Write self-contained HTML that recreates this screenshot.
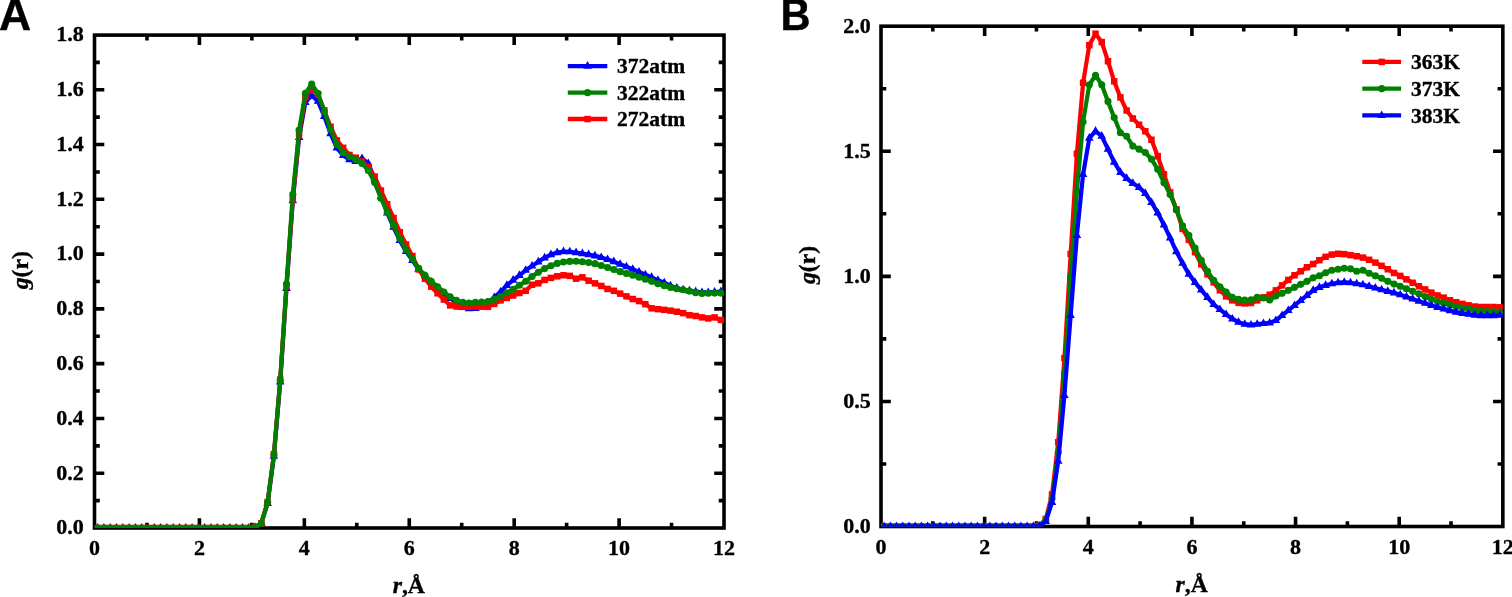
<!DOCTYPE html>
<html lang="en"><head><meta charset="utf-8"><title>g(r)</title>
<style>
html,body{margin:0;padding:0;background:#fff;}
body{width:1512px;height:597px;overflow:hidden;}
svg{display:block;}
.tk{font-family:"Liberation Serif",serif;font-weight:bold;font-size:22px;fill:#000;stroke:#000;stroke-width:0.35px;}
.tt{font-family:"Liberation Serif",serif;font-weight:bold;font-size:23.7px;fill:#000;stroke:#000;stroke-width:0.35px;}
.lg{font-family:"Liberation Serif",serif;font-weight:bold;font-size:21.5px;fill:#000;stroke:#000;stroke-width:0.35px;}
.pl{font-family:"Liberation Sans",sans-serif;font-weight:bold;font-size:44.5px;fill:#000;stroke:#000;stroke-width:0.4px;}
</style></head><body>
<svg width="1512" height="597" viewBox="0 0 1512 597">
<rect width="1512" height="597" fill="#fff"/>
<rect x="94.5" y="35.1" width="629.52" height="492.9" fill="none" stroke="#000" stroke-width="3.6"/>
<path d="M146.96 528.0v-5.3M146.96 35.1v5.3M199.42 528.0v-9.8M199.42 35.1v9.8M251.88 528.0v-5.3M251.88 35.1v5.3M304.34 528.0v-9.8M304.34 35.1v9.8M356.80 528.0v-5.3M356.80 35.1v5.3M409.26 528.0v-9.8M409.26 35.1v9.8M461.72 528.0v-5.3M461.72 35.1v5.3M514.18 528.0v-9.8M514.18 35.1v9.8M566.64 528.0v-5.3M566.64 35.1v5.3M619.10 528.0v-9.8M619.10 35.1v9.8M671.56 528.0v-5.3M671.56 35.1v5.3M94.5 500.61h5.3M724.02 500.61h-5.3M94.5 473.22h9.8M724.02 473.22h-9.8M94.5 445.83h5.3M724.02 445.83h-5.3M94.5 418.44h9.8M724.02 418.44h-9.8M94.5 391.05h5.3M724.02 391.05h-5.3M94.5 363.66h9.8M724.02 363.66h-9.8M94.5 336.27h5.3M724.02 336.27h-5.3M94.5 308.88h9.8M724.02 308.88h-9.8M94.5 281.49h5.3M724.02 281.49h-5.3M94.5 254.10h9.8M724.02 254.10h-9.8M94.5 226.71h5.3M724.02 226.71h-5.3M94.5 199.32h9.8M724.02 199.32h-9.8M94.5 171.93h5.3M724.02 171.93h-5.3M94.5 144.54h9.8M724.02 144.54h-9.8M94.5 117.15h5.3M724.02 117.15h-5.3M94.5 89.76h9.8M724.02 89.76h-9.8M94.5 62.37h5.3M724.02 62.37h-5.3" stroke="#000" stroke-width="3.6" fill="none"/>
<clipPath id="clipA"><rect x="94.5" y="35.1" width="629.52" height="492.9"/></clipPath>
<g clip-path="url(#clipA)">
<polyline fill="none" stroke="#0000ff" stroke-width="4.2" stroke-linejoin="round" points="97.65,528.00 103.94,528.00 110.24,528.00 116.53,528.00 122.83,528.00 129.12,528.00 135.42,528.00 141.71,528.00 148.01,528.00 154.30,528.00 160.60,528.00 166.89,528.00 173.19,528.00 179.49,528.00 185.78,528.00 192.08,528.00 198.37,528.00 204.67,528.00 210.96,528.00 217.26,528.00 223.55,528.00 229.85,528.00 236.14,528.00 242.44,528.00 248.73,528.00 255.03,527.18 261.32,523.21 267.62,503.35 273.91,456.24 280.21,382.01 286.50,288.34 292.80,200.69 299.09,137.42 305.39,102.36 311.68,95.24 317.98,101.26 324.27,116.33 330.57,133.58 336.87,147.83 343.16,155.50 349.46,159.60 355.75,161.52 362.05,158.51 368.34,163.44 374.64,178.78 380.93,196.58 387.23,213.02 393.52,227.26 399.82,240.41 406.11,251.36 412.41,260.40 418.70,269.16 425.00,276.01 431.29,282.04 437.59,288.06 443.88,293.54 450.18,298.47 456.47,302.31 462.77,307.51 469.06,308.61 475.36,308.33 481.65,306.14 487.95,302.58 494.25,297.38 500.54,291.90 506.84,285.32 513.13,280.12 519.43,275.33 525.72,270.26 532.02,266.01 538.31,261.82 544.61,257.80 550.90,254.57 557.20,252.57 563.49,251.55 569.79,251.77 576.08,252.57 582.38,253.58 588.67,254.57 594.97,255.80 601.26,257.39 607.56,259.41 613.85,261.60 620.15,264.23 626.44,266.64 632.74,269.25 639.03,271.88 645.33,274.67 651.63,277.30 657.92,280.31 664.22,282.72 670.51,285.87 676.81,288.06 683.10,289.71 689.40,290.80 695.69,291.62 701.99,292.45 708.28,292.45 714.58,292.04 720.87,291.62"/>
<path d="M97.65 523.00L101.95 530.60L93.35 530.60Z" fill="#0000ff"/>
<path d="M103.94 523.00L108.24 530.60L99.64 530.60Z" fill="#0000ff"/>
<path d="M110.24 523.00L114.54 530.60L105.94 530.60Z" fill="#0000ff"/>
<path d="M116.53 523.00L120.83 530.60L112.23 530.60Z" fill="#0000ff"/>
<path d="M122.83 523.00L127.13 530.60L118.53 530.60Z" fill="#0000ff"/>
<path d="M129.12 523.00L133.42 530.60L124.82 530.60Z" fill="#0000ff"/>
<path d="M135.42 523.00L139.72 530.60L131.12 530.60Z" fill="#0000ff"/>
<path d="M141.71 523.00L146.01 530.60L137.41 530.60Z" fill="#0000ff"/>
<path d="M148.01 523.00L152.31 530.60L143.71 530.60Z" fill="#0000ff"/>
<path d="M154.30 523.00L158.60 530.60L150.00 530.60Z" fill="#0000ff"/>
<path d="M160.60 523.00L164.90 530.60L156.30 530.60Z" fill="#0000ff"/>
<path d="M166.89 523.00L171.19 530.60L162.59 530.60Z" fill="#0000ff"/>
<path d="M173.19 523.00L177.49 530.60L168.89 530.60Z" fill="#0000ff"/>
<path d="M179.49 523.00L183.79 530.60L175.19 530.60Z" fill="#0000ff"/>
<path d="M185.78 523.00L190.08 530.60L181.48 530.60Z" fill="#0000ff"/>
<path d="M192.08 523.00L196.38 530.60L187.78 530.60Z" fill="#0000ff"/>
<path d="M198.37 523.00L202.67 530.60L194.07 530.60Z" fill="#0000ff"/>
<path d="M204.67 523.00L208.97 530.60L200.37 530.60Z" fill="#0000ff"/>
<path d="M210.96 523.00L215.26 530.60L206.66 530.60Z" fill="#0000ff"/>
<path d="M217.26 523.00L221.56 530.60L212.96 530.60Z" fill="#0000ff"/>
<path d="M223.55 523.00L227.85 530.60L219.25 530.60Z" fill="#0000ff"/>
<path d="M229.85 523.00L234.15 530.60L225.55 530.60Z" fill="#0000ff"/>
<path d="M236.14 523.00L240.44 530.60L231.84 530.60Z" fill="#0000ff"/>
<path d="M242.44 523.00L246.74 530.60L238.14 530.60Z" fill="#0000ff"/>
<path d="M248.73 523.00L253.03 530.60L244.43 530.60Z" fill="#0000ff"/>
<path d="M255.03 522.18L259.33 529.78L250.73 529.78Z" fill="#0000ff"/>
<path d="M261.32 518.21L265.62 525.81L257.02 525.81Z" fill="#0000ff"/>
<path d="M267.62 498.35L271.92 505.95L263.32 505.95Z" fill="#0000ff"/>
<path d="M273.91 451.24L278.21 458.84L269.61 458.84Z" fill="#0000ff"/>
<path d="M280.21 377.01L284.51 384.61L275.91 384.61Z" fill="#0000ff"/>
<path d="M286.50 283.34L290.80 290.94L282.20 290.94Z" fill="#0000ff"/>
<path d="M292.80 195.69L297.10 203.29L288.50 203.29Z" fill="#0000ff"/>
<path d="M299.09 132.42L303.39 140.02L294.79 140.02Z" fill="#0000ff"/>
<path d="M305.39 97.36L309.69 104.96L301.09 104.96Z" fill="#0000ff"/>
<path d="M311.68 90.24L315.98 97.84L307.38 97.84Z" fill="#0000ff"/>
<path d="M317.98 96.26L322.28 103.86L313.68 103.86Z" fill="#0000ff"/>
<path d="M324.27 111.33L328.57 118.93L319.97 118.93Z" fill="#0000ff"/>
<path d="M330.57 128.58L334.87 136.18L326.27 136.18Z" fill="#0000ff"/>
<path d="M336.87 142.83L341.17 150.43L332.57 150.43Z" fill="#0000ff"/>
<path d="M343.16 150.50L347.46 158.10L338.86 158.10Z" fill="#0000ff"/>
<path d="M349.46 154.60L353.76 162.20L345.16 162.20Z" fill="#0000ff"/>
<path d="M355.75 156.52L360.05 164.12L351.45 164.12Z" fill="#0000ff"/>
<path d="M362.05 153.51L366.35 161.11L357.75 161.11Z" fill="#0000ff"/>
<path d="M368.34 158.44L372.64 166.04L364.04 166.04Z" fill="#0000ff"/>
<path d="M374.64 173.78L378.94 181.38L370.34 181.38Z" fill="#0000ff"/>
<path d="M380.93 191.58L385.23 199.18L376.63 199.18Z" fill="#0000ff"/>
<path d="M387.23 208.02L391.53 215.62L382.93 215.62Z" fill="#0000ff"/>
<path d="M393.52 222.26L397.82 229.86L389.22 229.86Z" fill="#0000ff"/>
<path d="M399.82 235.41L404.12 243.01L395.52 243.01Z" fill="#0000ff"/>
<path d="M406.11 246.36L410.41 253.96L401.81 253.96Z" fill="#0000ff"/>
<path d="M412.41 255.40L416.71 263.00L408.11 263.00Z" fill="#0000ff"/>
<path d="M418.70 264.16L423.00 271.76L414.40 271.76Z" fill="#0000ff"/>
<path d="M425.00 271.01L429.30 278.61L420.70 278.61Z" fill="#0000ff"/>
<path d="M431.29 277.04L435.59 284.64L426.99 284.64Z" fill="#0000ff"/>
<path d="M437.59 283.06L441.89 290.66L433.29 290.66Z" fill="#0000ff"/>
<path d="M443.88 288.54L448.18 296.14L439.58 296.14Z" fill="#0000ff"/>
<path d="M450.18 293.47L454.48 301.07L445.88 301.07Z" fill="#0000ff"/>
<path d="M456.47 297.31L460.77 304.91L452.17 304.91Z" fill="#0000ff"/>
<path d="M462.77 302.51L467.07 310.11L458.47 310.11Z" fill="#0000ff"/>
<path d="M469.06 303.61L473.36 311.21L464.76 311.21Z" fill="#0000ff"/>
<path d="M475.36 303.33L479.66 310.93L471.06 310.93Z" fill="#0000ff"/>
<path d="M481.65 301.14L485.95 308.74L477.35 308.74Z" fill="#0000ff"/>
<path d="M487.95 297.58L492.25 305.18L483.65 305.18Z" fill="#0000ff"/>
<path d="M494.25 292.38L498.55 299.98L489.95 299.98Z" fill="#0000ff"/>
<path d="M500.54 286.90L504.84 294.50L496.24 294.50Z" fill="#0000ff"/>
<path d="M506.84 280.32L511.14 287.92L502.54 287.92Z" fill="#0000ff"/>
<path d="M513.13 275.12L517.43 282.72L508.83 282.72Z" fill="#0000ff"/>
<path d="M519.43 270.33L523.73 277.93L515.13 277.93Z" fill="#0000ff"/>
<path d="M525.72 265.26L530.02 272.86L521.42 272.86Z" fill="#0000ff"/>
<path d="M532.02 261.01L536.32 268.61L527.72 268.61Z" fill="#0000ff"/>
<path d="M538.31 256.82L542.61 264.42L534.01 264.42Z" fill="#0000ff"/>
<path d="M544.61 252.80L548.91 260.40L540.31 260.40Z" fill="#0000ff"/>
<path d="M550.90 249.57L555.20 257.17L546.60 257.17Z" fill="#0000ff"/>
<path d="M557.20 247.57L561.50 255.17L552.90 255.17Z" fill="#0000ff"/>
<path d="M563.49 246.55L567.79 254.15L559.19 254.15Z" fill="#0000ff"/>
<path d="M569.79 246.77L574.09 254.37L565.49 254.37Z" fill="#0000ff"/>
<path d="M576.08 247.57L580.38 255.17L571.78 255.17Z" fill="#0000ff"/>
<path d="M582.38 248.58L586.68 256.18L578.08 256.18Z" fill="#0000ff"/>
<path d="M588.67 249.57L592.97 257.17L584.37 257.17Z" fill="#0000ff"/>
<path d="M594.97 250.80L599.27 258.40L590.67 258.40Z" fill="#0000ff"/>
<path d="M601.26 252.39L605.56 259.99L596.96 259.99Z" fill="#0000ff"/>
<path d="M607.56 254.41L611.86 262.01L603.26 262.01Z" fill="#0000ff"/>
<path d="M613.85 256.60L618.15 264.20L609.55 264.20Z" fill="#0000ff"/>
<path d="M620.15 259.23L624.45 266.83L615.85 266.83Z" fill="#0000ff"/>
<path d="M626.44 261.64L630.74 269.24L622.14 269.24Z" fill="#0000ff"/>
<path d="M632.74 264.25L637.04 271.85L628.44 271.85Z" fill="#0000ff"/>
<path d="M639.03 266.88L643.33 274.48L634.73 274.48Z" fill="#0000ff"/>
<path d="M645.33 269.67L649.63 277.27L641.03 277.27Z" fill="#0000ff"/>
<path d="M651.63 272.30L655.93 279.90L647.33 279.90Z" fill="#0000ff"/>
<path d="M657.92 275.31L662.22 282.91L653.62 282.91Z" fill="#0000ff"/>
<path d="M664.22 277.72L668.52 285.32L659.92 285.32Z" fill="#0000ff"/>
<path d="M670.51 280.87L674.81 288.47L666.21 288.47Z" fill="#0000ff"/>
<path d="M676.81 283.06L681.11 290.66L672.51 290.66Z" fill="#0000ff"/>
<path d="M683.10 284.71L687.40 292.31L678.80 292.31Z" fill="#0000ff"/>
<path d="M689.40 285.80L693.70 293.40L685.10 293.40Z" fill="#0000ff"/>
<path d="M695.69 286.62L699.99 294.22L691.39 294.22Z" fill="#0000ff"/>
<path d="M701.99 287.45L706.29 295.05L697.69 295.05Z" fill="#0000ff"/>
<path d="M708.28 287.45L712.58 295.05L703.98 295.05Z" fill="#0000ff"/>
<path d="M714.58 287.04L718.88 294.64L710.28 294.64Z" fill="#0000ff"/>
<path d="M720.87 286.62L725.17 294.22L716.57 294.22Z" fill="#0000ff"/>
<polyline fill="none" stroke="#ff0000" stroke-width="4.2" stroke-linejoin="round" points="97.65,528.00 103.94,528.00 110.24,528.00 116.53,528.00 122.83,528.00 129.12,528.00 135.42,528.00 141.71,528.00 148.01,528.00 154.30,528.00 160.60,528.00 166.89,528.00 173.19,528.00 179.49,528.00 185.78,528.00 192.08,528.00 198.37,528.00 204.67,528.00 210.96,528.00 217.26,528.00 223.55,528.00 229.85,528.00 236.14,528.00 242.44,528.00 248.73,528.00 255.03,527.18 261.32,523.21 267.62,501.98 273.91,454.05 280.21,379.55 286.50,285.60 292.80,199.32 299.09,133.58 305.39,96.61 311.68,88.94 317.98,94.42 324.27,110.30 330.57,126.74 336.87,140.43 343.16,147.83 349.46,154.95 355.75,157.69 362.05,161.52 368.34,167.00 374.64,176.59 380.93,190.56 387.23,204.25 393.52,217.95 399.82,232.19 406.11,244.51 412.41,256.02 418.70,269.44 425.00,278.75 431.29,286.69 437.59,293.27 443.88,299.57 450.18,305.40 456.47,306.55 462.77,306.83 469.06,306.69 475.36,306.41 481.65,306.69 487.95,306.83 494.25,303.95 500.54,300.39 506.84,297.92 513.13,295.46 519.43,292.99 525.72,290.80 532.02,284.72 538.31,283.33 544.61,279.90 550.90,277.90 557.20,276.29 563.49,275.27 569.79,275.88 576.08,278.70 582.38,277.30 588.67,280.72 594.97,283.33 601.26,285.93 607.56,288.97 613.85,290.80 620.15,293.62 626.44,296.34 632.74,299.02 639.03,301.07 645.33,304.22 651.63,308.33 657.92,309.15 664.22,309.84 670.51,310.63 676.81,311.73 683.10,313.13 689.40,315.18 695.69,316.00 701.99,317.40 708.28,318.41 714.58,317.40 720.87,320.00"/>
<rect x="94.40" y="524.75" width="6.5" height="6.5" fill="#ff0000"/>
<rect x="100.69" y="524.75" width="6.5" height="6.5" fill="#ff0000"/>
<rect x="106.99" y="524.75" width="6.5" height="6.5" fill="#ff0000"/>
<rect x="113.28" y="524.75" width="6.5" height="6.5" fill="#ff0000"/>
<rect x="119.58" y="524.75" width="6.5" height="6.5" fill="#ff0000"/>
<rect x="125.87" y="524.75" width="6.5" height="6.5" fill="#ff0000"/>
<rect x="132.17" y="524.75" width="6.5" height="6.5" fill="#ff0000"/>
<rect x="138.46" y="524.75" width="6.5" height="6.5" fill="#ff0000"/>
<rect x="144.76" y="524.75" width="6.5" height="6.5" fill="#ff0000"/>
<rect x="151.05" y="524.75" width="6.5" height="6.5" fill="#ff0000"/>
<rect x="157.35" y="524.75" width="6.5" height="6.5" fill="#ff0000"/>
<rect x="163.64" y="524.75" width="6.5" height="6.5" fill="#ff0000"/>
<rect x="169.94" y="524.75" width="6.5" height="6.5" fill="#ff0000"/>
<rect x="176.24" y="524.75" width="6.5" height="6.5" fill="#ff0000"/>
<rect x="182.53" y="524.75" width="6.5" height="6.5" fill="#ff0000"/>
<rect x="188.83" y="524.75" width="6.5" height="6.5" fill="#ff0000"/>
<rect x="195.12" y="524.75" width="6.5" height="6.5" fill="#ff0000"/>
<rect x="201.42" y="524.75" width="6.5" height="6.5" fill="#ff0000"/>
<rect x="207.71" y="524.75" width="6.5" height="6.5" fill="#ff0000"/>
<rect x="214.01" y="524.75" width="6.5" height="6.5" fill="#ff0000"/>
<rect x="220.30" y="524.75" width="6.5" height="6.5" fill="#ff0000"/>
<rect x="226.60" y="524.75" width="6.5" height="6.5" fill="#ff0000"/>
<rect x="232.89" y="524.75" width="6.5" height="6.5" fill="#ff0000"/>
<rect x="239.19" y="524.75" width="6.5" height="6.5" fill="#ff0000"/>
<rect x="245.48" y="524.75" width="6.5" height="6.5" fill="#ff0000"/>
<rect x="251.78" y="523.93" width="6.5" height="6.5" fill="#ff0000"/>
<rect x="258.07" y="519.96" width="6.5" height="6.5" fill="#ff0000"/>
<rect x="264.37" y="498.73" width="6.5" height="6.5" fill="#ff0000"/>
<rect x="270.66" y="450.80" width="6.5" height="6.5" fill="#ff0000"/>
<rect x="276.96" y="376.30" width="6.5" height="6.5" fill="#ff0000"/>
<rect x="283.25" y="282.35" width="6.5" height="6.5" fill="#ff0000"/>
<rect x="289.55" y="196.07" width="6.5" height="6.5" fill="#ff0000"/>
<rect x="295.84" y="130.33" width="6.5" height="6.5" fill="#ff0000"/>
<rect x="302.14" y="93.36" width="6.5" height="6.5" fill="#ff0000"/>
<rect x="308.43" y="85.69" width="6.5" height="6.5" fill="#ff0000"/>
<rect x="314.73" y="91.17" width="6.5" height="6.5" fill="#ff0000"/>
<rect x="321.02" y="107.05" width="6.5" height="6.5" fill="#ff0000"/>
<rect x="327.32" y="123.49" width="6.5" height="6.5" fill="#ff0000"/>
<rect x="333.62" y="137.18" width="6.5" height="6.5" fill="#ff0000"/>
<rect x="339.91" y="144.58" width="6.5" height="6.5" fill="#ff0000"/>
<rect x="346.21" y="151.70" width="6.5" height="6.5" fill="#ff0000"/>
<rect x="352.50" y="154.44" width="6.5" height="6.5" fill="#ff0000"/>
<rect x="358.80" y="158.27" width="6.5" height="6.5" fill="#ff0000"/>
<rect x="365.09" y="163.75" width="6.5" height="6.5" fill="#ff0000"/>
<rect x="371.39" y="173.34" width="6.5" height="6.5" fill="#ff0000"/>
<rect x="377.68" y="187.31" width="6.5" height="6.5" fill="#ff0000"/>
<rect x="383.98" y="201.00" width="6.5" height="6.5" fill="#ff0000"/>
<rect x="390.27" y="214.70" width="6.5" height="6.5" fill="#ff0000"/>
<rect x="396.57" y="228.94" width="6.5" height="6.5" fill="#ff0000"/>
<rect x="402.86" y="241.26" width="6.5" height="6.5" fill="#ff0000"/>
<rect x="409.16" y="252.77" width="6.5" height="6.5" fill="#ff0000"/>
<rect x="415.45" y="266.19" width="6.5" height="6.5" fill="#ff0000"/>
<rect x="421.75" y="275.50" width="6.5" height="6.5" fill="#ff0000"/>
<rect x="428.04" y="283.44" width="6.5" height="6.5" fill="#ff0000"/>
<rect x="434.34" y="290.02" width="6.5" height="6.5" fill="#ff0000"/>
<rect x="440.63" y="296.32" width="6.5" height="6.5" fill="#ff0000"/>
<rect x="446.93" y="302.15" width="6.5" height="6.5" fill="#ff0000"/>
<rect x="453.22" y="303.30" width="6.5" height="6.5" fill="#ff0000"/>
<rect x="459.52" y="303.58" width="6.5" height="6.5" fill="#ff0000"/>
<rect x="465.81" y="303.44" width="6.5" height="6.5" fill="#ff0000"/>
<rect x="472.11" y="303.16" width="6.5" height="6.5" fill="#ff0000"/>
<rect x="478.40" y="303.44" width="6.5" height="6.5" fill="#ff0000"/>
<rect x="484.70" y="303.58" width="6.5" height="6.5" fill="#ff0000"/>
<rect x="491.00" y="300.70" width="6.5" height="6.5" fill="#ff0000"/>
<rect x="497.29" y="297.14" width="6.5" height="6.5" fill="#ff0000"/>
<rect x="503.59" y="294.67" width="6.5" height="6.5" fill="#ff0000"/>
<rect x="509.88" y="292.21" width="6.5" height="6.5" fill="#ff0000"/>
<rect x="516.18" y="289.74" width="6.5" height="6.5" fill="#ff0000"/>
<rect x="522.47" y="287.55" width="6.5" height="6.5" fill="#ff0000"/>
<rect x="528.77" y="281.47" width="6.5" height="6.5" fill="#ff0000"/>
<rect x="535.06" y="280.08" width="6.5" height="6.5" fill="#ff0000"/>
<rect x="541.36" y="276.65" width="6.5" height="6.5" fill="#ff0000"/>
<rect x="547.65" y="274.65" width="6.5" height="6.5" fill="#ff0000"/>
<rect x="553.95" y="273.04" width="6.5" height="6.5" fill="#ff0000"/>
<rect x="560.24" y="272.02" width="6.5" height="6.5" fill="#ff0000"/>
<rect x="566.54" y="272.63" width="6.5" height="6.5" fill="#ff0000"/>
<rect x="572.83" y="275.45" width="6.5" height="6.5" fill="#ff0000"/>
<rect x="579.13" y="274.05" width="6.5" height="6.5" fill="#ff0000"/>
<rect x="585.42" y="277.47" width="6.5" height="6.5" fill="#ff0000"/>
<rect x="591.72" y="280.08" width="6.5" height="6.5" fill="#ff0000"/>
<rect x="598.01" y="282.68" width="6.5" height="6.5" fill="#ff0000"/>
<rect x="604.31" y="285.72" width="6.5" height="6.5" fill="#ff0000"/>
<rect x="610.60" y="287.55" width="6.5" height="6.5" fill="#ff0000"/>
<rect x="616.90" y="290.37" width="6.5" height="6.5" fill="#ff0000"/>
<rect x="623.19" y="293.09" width="6.5" height="6.5" fill="#ff0000"/>
<rect x="629.49" y="295.77" width="6.5" height="6.5" fill="#ff0000"/>
<rect x="635.78" y="297.82" width="6.5" height="6.5" fill="#ff0000"/>
<rect x="642.08" y="300.97" width="6.5" height="6.5" fill="#ff0000"/>
<rect x="648.38" y="305.08" width="6.5" height="6.5" fill="#ff0000"/>
<rect x="654.67" y="305.90" width="6.5" height="6.5" fill="#ff0000"/>
<rect x="660.97" y="306.59" width="6.5" height="6.5" fill="#ff0000"/>
<rect x="667.26" y="307.38" width="6.5" height="6.5" fill="#ff0000"/>
<rect x="673.56" y="308.48" width="6.5" height="6.5" fill="#ff0000"/>
<rect x="679.85" y="309.88" width="6.5" height="6.5" fill="#ff0000"/>
<rect x="686.15" y="311.93" width="6.5" height="6.5" fill="#ff0000"/>
<rect x="692.44" y="312.75" width="6.5" height="6.5" fill="#ff0000"/>
<rect x="698.74" y="314.15" width="6.5" height="6.5" fill="#ff0000"/>
<rect x="705.03" y="315.16" width="6.5" height="6.5" fill="#ff0000"/>
<rect x="711.33" y="314.15" width="6.5" height="6.5" fill="#ff0000"/>
<rect x="717.62" y="316.75" width="6.5" height="6.5" fill="#ff0000"/>
<polyline fill="none" stroke="#008000" stroke-width="4.2" stroke-linejoin="round" points="97.65,528.00 103.94,528.00 110.24,528.00 116.53,528.00 122.83,528.00 129.12,528.00 135.42,528.00 141.71,528.00 148.01,528.00 154.30,528.00 160.60,528.00 166.89,528.00 173.19,528.00 179.49,528.00 185.78,528.00 192.08,528.00 198.37,528.00 204.67,528.00 210.96,528.00 217.26,528.00 223.55,528.00 229.85,528.00 236.14,528.00 242.44,528.00 248.73,528.00 255.03,527.18 261.32,523.21 267.62,502.39 273.91,454.87 280.21,380.50 286.50,283.96 292.80,194.39 299.09,130.02 305.39,93.32 311.68,84.01 317.98,93.32 324.27,111.40 330.57,129.48 336.87,144.54 343.16,152.48 349.46,156.59 355.75,159.60 362.05,163.44 368.34,170.56 374.64,182.61 380.93,198.22 387.23,211.92 393.52,225.34 399.82,238.76 406.11,249.72 412.41,259.03 418.70,268.34 425.00,275.33 431.29,281.30 437.59,286.69 443.88,291.98 450.18,296.83 456.47,300.39 462.77,302.42 469.06,303.02 475.36,302.42 481.65,302.03 487.95,301.48 494.25,299.40 500.54,296.39 506.84,292.80 513.13,289.30 519.43,285.32 525.72,281.30 532.02,276.56 538.31,272.18 544.61,268.62 550.90,265.74 557.20,263.41 563.49,262.02 569.79,261.41 576.08,261.22 582.38,261.82 588.67,262.62 594.97,263.63 601.26,265.44 607.56,267.44 613.85,269.44 620.15,271.66 626.44,273.46 632.74,275.27 639.03,277.30 645.33,279.30 651.63,281.33 657.92,283.74 664.22,285.65 670.51,287.38 676.81,288.72 683.10,289.71 689.40,291.08 695.69,292.67 701.99,293.49 708.28,293.27 714.58,293.08 720.87,293.08"/>
<circle cx="97.65" cy="528.00" r="3.55" fill="#008000"/>
<circle cx="103.94" cy="528.00" r="3.55" fill="#008000"/>
<circle cx="110.24" cy="528.00" r="3.55" fill="#008000"/>
<circle cx="116.53" cy="528.00" r="3.55" fill="#008000"/>
<circle cx="122.83" cy="528.00" r="3.55" fill="#008000"/>
<circle cx="129.12" cy="528.00" r="3.55" fill="#008000"/>
<circle cx="135.42" cy="528.00" r="3.55" fill="#008000"/>
<circle cx="141.71" cy="528.00" r="3.55" fill="#008000"/>
<circle cx="148.01" cy="528.00" r="3.55" fill="#008000"/>
<circle cx="154.30" cy="528.00" r="3.55" fill="#008000"/>
<circle cx="160.60" cy="528.00" r="3.55" fill="#008000"/>
<circle cx="166.89" cy="528.00" r="3.55" fill="#008000"/>
<circle cx="173.19" cy="528.00" r="3.55" fill="#008000"/>
<circle cx="179.49" cy="528.00" r="3.55" fill="#008000"/>
<circle cx="185.78" cy="528.00" r="3.55" fill="#008000"/>
<circle cx="192.08" cy="528.00" r="3.55" fill="#008000"/>
<circle cx="198.37" cy="528.00" r="3.55" fill="#008000"/>
<circle cx="204.67" cy="528.00" r="3.55" fill="#008000"/>
<circle cx="210.96" cy="528.00" r="3.55" fill="#008000"/>
<circle cx="217.26" cy="528.00" r="3.55" fill="#008000"/>
<circle cx="223.55" cy="528.00" r="3.55" fill="#008000"/>
<circle cx="229.85" cy="528.00" r="3.55" fill="#008000"/>
<circle cx="236.14" cy="528.00" r="3.55" fill="#008000"/>
<circle cx="242.44" cy="528.00" r="3.55" fill="#008000"/>
<circle cx="248.73" cy="528.00" r="3.55" fill="#008000"/>
<circle cx="255.03" cy="527.18" r="3.55" fill="#008000"/>
<circle cx="261.32" cy="523.21" r="3.55" fill="#008000"/>
<circle cx="267.62" cy="502.39" r="3.55" fill="#008000"/>
<circle cx="273.91" cy="454.87" r="3.55" fill="#008000"/>
<circle cx="280.21" cy="380.50" r="3.55" fill="#008000"/>
<circle cx="286.50" cy="283.96" r="3.55" fill="#008000"/>
<circle cx="292.80" cy="194.39" r="3.55" fill="#008000"/>
<circle cx="299.09" cy="130.02" r="3.55" fill="#008000"/>
<circle cx="305.39" cy="93.32" r="3.55" fill="#008000"/>
<circle cx="311.68" cy="84.01" r="3.55" fill="#008000"/>
<circle cx="317.98" cy="93.32" r="3.55" fill="#008000"/>
<circle cx="324.27" cy="111.40" r="3.55" fill="#008000"/>
<circle cx="330.57" cy="129.48" r="3.55" fill="#008000"/>
<circle cx="336.87" cy="144.54" r="3.55" fill="#008000"/>
<circle cx="343.16" cy="152.48" r="3.55" fill="#008000"/>
<circle cx="349.46" cy="156.59" r="3.55" fill="#008000"/>
<circle cx="355.75" cy="159.60" r="3.55" fill="#008000"/>
<circle cx="362.05" cy="163.44" r="3.55" fill="#008000"/>
<circle cx="368.34" cy="170.56" r="3.55" fill="#008000"/>
<circle cx="374.64" cy="182.61" r="3.55" fill="#008000"/>
<circle cx="380.93" cy="198.22" r="3.55" fill="#008000"/>
<circle cx="387.23" cy="211.92" r="3.55" fill="#008000"/>
<circle cx="393.52" cy="225.34" r="3.55" fill="#008000"/>
<circle cx="399.82" cy="238.76" r="3.55" fill="#008000"/>
<circle cx="406.11" cy="249.72" r="3.55" fill="#008000"/>
<circle cx="412.41" cy="259.03" r="3.55" fill="#008000"/>
<circle cx="418.70" cy="268.34" r="3.55" fill="#008000"/>
<circle cx="425.00" cy="275.33" r="3.55" fill="#008000"/>
<circle cx="431.29" cy="281.30" r="3.55" fill="#008000"/>
<circle cx="437.59" cy="286.69" r="3.55" fill="#008000"/>
<circle cx="443.88" cy="291.98" r="3.55" fill="#008000"/>
<circle cx="450.18" cy="296.83" r="3.55" fill="#008000"/>
<circle cx="456.47" cy="300.39" r="3.55" fill="#008000"/>
<circle cx="462.77" cy="302.42" r="3.55" fill="#008000"/>
<circle cx="469.06" cy="303.02" r="3.55" fill="#008000"/>
<circle cx="475.36" cy="302.42" r="3.55" fill="#008000"/>
<circle cx="481.65" cy="302.03" r="3.55" fill="#008000"/>
<circle cx="487.95" cy="301.48" r="3.55" fill="#008000"/>
<circle cx="494.25" cy="299.40" r="3.55" fill="#008000"/>
<circle cx="500.54" cy="296.39" r="3.55" fill="#008000"/>
<circle cx="506.84" cy="292.80" r="3.55" fill="#008000"/>
<circle cx="513.13" cy="289.30" r="3.55" fill="#008000"/>
<circle cx="519.43" cy="285.32" r="3.55" fill="#008000"/>
<circle cx="525.72" cy="281.30" r="3.55" fill="#008000"/>
<circle cx="532.02" cy="276.56" r="3.55" fill="#008000"/>
<circle cx="538.31" cy="272.18" r="3.55" fill="#008000"/>
<circle cx="544.61" cy="268.62" r="3.55" fill="#008000"/>
<circle cx="550.90" cy="265.74" r="3.55" fill="#008000"/>
<circle cx="557.20" cy="263.41" r="3.55" fill="#008000"/>
<circle cx="563.49" cy="262.02" r="3.55" fill="#008000"/>
<circle cx="569.79" cy="261.41" r="3.55" fill="#008000"/>
<circle cx="576.08" cy="261.22" r="3.55" fill="#008000"/>
<circle cx="582.38" cy="261.82" r="3.55" fill="#008000"/>
<circle cx="588.67" cy="262.62" r="3.55" fill="#008000"/>
<circle cx="594.97" cy="263.63" r="3.55" fill="#008000"/>
<circle cx="601.26" cy="265.44" r="3.55" fill="#008000"/>
<circle cx="607.56" cy="267.44" r="3.55" fill="#008000"/>
<circle cx="613.85" cy="269.44" r="3.55" fill="#008000"/>
<circle cx="620.15" cy="271.66" r="3.55" fill="#008000"/>
<circle cx="626.44" cy="273.46" r="3.55" fill="#008000"/>
<circle cx="632.74" cy="275.27" r="3.55" fill="#008000"/>
<circle cx="639.03" cy="277.30" r="3.55" fill="#008000"/>
<circle cx="645.33" cy="279.30" r="3.55" fill="#008000"/>
<circle cx="651.63" cy="281.33" r="3.55" fill="#008000"/>
<circle cx="657.92" cy="283.74" r="3.55" fill="#008000"/>
<circle cx="664.22" cy="285.65" r="3.55" fill="#008000"/>
<circle cx="670.51" cy="287.38" r="3.55" fill="#008000"/>
<circle cx="676.81" cy="288.72" r="3.55" fill="#008000"/>
<circle cx="683.10" cy="289.71" r="3.55" fill="#008000"/>
<circle cx="689.40" cy="291.08" r="3.55" fill="#008000"/>
<circle cx="695.69" cy="292.67" r="3.55" fill="#008000"/>
<circle cx="701.99" cy="293.49" r="3.55" fill="#008000"/>
<circle cx="708.28" cy="293.27" r="3.55" fill="#008000"/>
<circle cx="714.58" cy="293.08" r="3.55" fill="#008000"/>
<circle cx="720.87" cy="293.08" r="3.55" fill="#008000"/>
</g>
<text x="94.50" y="554.90" text-anchor="middle" class="tk">0</text>
<text x="199.42" y="554.90" text-anchor="middle" class="tk">2</text>
<text x="304.34" y="554.90" text-anchor="middle" class="tk">4</text>
<text x="409.26" y="554.90" text-anchor="middle" class="tk">6</text>
<text x="514.18" y="554.90" text-anchor="middle" class="tk">8</text>
<text x="619.10" y="554.90" text-anchor="middle" class="tk">10</text>
<text x="724.02" y="554.90" text-anchor="middle" class="tk">12</text>
<text x="83.70" y="534.30" text-anchor="end" class="tk">0.0</text>
<text x="83.70" y="479.52" text-anchor="end" class="tk">0.2</text>
<text x="83.70" y="424.74" text-anchor="end" class="tk">0.4</text>
<text x="83.70" y="369.96" text-anchor="end" class="tk">0.6</text>
<text x="83.70" y="315.18" text-anchor="end" class="tk">0.8</text>
<text x="83.70" y="260.40" text-anchor="end" class="tk">1.0</text>
<text x="83.70" y="205.62" text-anchor="end" class="tk">1.2</text>
<text x="83.70" y="150.84" text-anchor="end" class="tk">1.4</text>
<text x="83.70" y="96.06" text-anchor="end" class="tk">1.6</text>
<text x="83.70" y="41.28" text-anchor="end" class="tk">1.8</text>
<text x="408.80" y="593.1" text-anchor="middle" class="tt"><tspan font-style="italic">r</tspan>,Å</text>
<text transform="translate(28.0,270.2) rotate(-90)" text-anchor="middle" class="tt"><tspan font-style="italic">g</tspan>(r)</text>
<path d="M567.8 66.1H607.3" stroke="#0000ff" stroke-width="4.4"/>
<path d="M587.55 61.10L591.85 68.70L583.25 68.70Z" fill="#0000ff"/>
<text x="617.0" y="73.30" class="lg">372atm</text>
<path d="M567.8 92.65H607.3" stroke="#008000" stroke-width="4.4"/>
<circle cx="587.55" cy="92.65" r="3.55" fill="#008000"/>
<text x="617.0" y="99.85" class="lg">322atm</text>
<path d="M567.8 119.05H607.3" stroke="#ff0000" stroke-width="4.4"/>
<rect x="584.30" y="115.80" width="6.5" height="6.5" fill="#ff0000"/>
<text x="617.0" y="126.25" class="lg">272atm</text>
<text transform="translate(-1.0,30) scale(1,1)" class="pl">A</text>
<rect x="881.0" y="26.2" width="621.8400000000001" height="500.3" fill="none" stroke="#000" stroke-width="3.6"/>
<path d="M932.82 526.5v-5.3M932.82 26.2v5.3M984.64 526.5v-9.8M984.64 26.2v9.8M1036.46 526.5v-5.3M1036.46 26.2v5.3M1088.28 526.5v-9.8M1088.28 26.2v9.8M1140.10 526.5v-5.3M1140.10 26.2v5.3M1191.92 526.5v-9.8M1191.92 26.2v9.8M1243.74 526.5v-5.3M1243.74 26.2v5.3M1295.56 526.5v-9.8M1295.56 26.2v9.8M1347.38 526.5v-5.3M1347.38 26.2v5.3M1399.20 526.5v-9.8M1399.20 26.2v9.8M1451.02 526.5v-5.3M1451.02 26.2v5.3M881.0 463.96h5.3M1502.8400000000001 463.96h-5.3M881.0 401.43h9.8M1502.8400000000001 401.43h-9.8M881.0 338.89h5.3M1502.8400000000001 338.89h-5.3M881.0 276.35h9.8M1502.8400000000001 276.35h-9.8M881.0 213.81h5.3M1502.8400000000001 213.81h-5.3M881.0 151.27h9.8M1502.8400000000001 151.27h-9.8M881.0 88.74h5.3M1502.8400000000001 88.74h-5.3" stroke="#000" stroke-width="3.6" fill="none"/>
<clipPath id="clipB"><rect x="881.0" y="26.2" width="621.8400000000001" height="500.3"/></clipPath>
<g clip-path="url(#clipB)">
<polyline fill="none" stroke="#ff0000" stroke-width="4.2" stroke-linejoin="round" points="884.11,526.50 890.33,526.50 896.55,526.50 902.76,526.50 908.98,526.50 915.20,526.50 921.42,526.50 927.64,526.50 933.86,526.50 940.07,526.50 946.29,526.50 952.51,526.50 958.73,526.50 964.95,526.50 971.17,526.50 977.39,526.50 983.60,526.50 989.82,526.50 996.04,526.50 1002.26,526.50 1008.48,526.50 1014.70,526.50 1020.91,526.50 1027.13,526.50 1033.35,526.50 1039.57,525.50 1045.79,519.00 1052.01,494.48 1058.22,442.20 1064.44,358.15 1070.66,253.84 1076.88,153.78 1083.10,82.73 1089.32,45.11 1095.53,33.70 1101.75,42.11 1107.97,61.22 1114.19,81.31 1120.41,97.39 1126.63,110.50 1132.85,118.51 1139.06,124.76 1145.28,131.26 1151.50,139.77 1157.72,156.18 1163.94,174.29 1170.16,192.37 1176.37,209.43 1182.59,228.82 1188.81,239.83 1195.03,252.16 1201.25,264.22 1207.47,274.27 1213.68,282.35 1219.90,290.36 1226.12,296.36 1232.34,300.39 1238.56,302.87 1244.78,303.42 1250.99,303.02 1257.21,300.39 1263.43,297.36 1269.65,294.76 1275.87,290.36 1282.09,285.36 1288.31,279.90 1294.52,275.27 1300.74,271.25 1306.96,267.24 1313.18,264.02 1319.40,260.19 1325.62,256.84 1331.83,254.59 1338.05,253.76 1344.27,254.16 1350.49,255.16 1356.71,256.19 1362.93,257.59 1369.14,259.79 1375.36,262.62 1381.58,265.84 1387.80,269.25 1394.02,272.97 1400.24,275.90 1406.45,279.35 1412.67,282.78 1418.89,286.26 1425.11,289.43 1431.33,292.66 1437.55,295.46 1443.77,297.66 1449.98,300.24 1456.20,302.24 1462.42,303.87 1468.64,305.37 1474.86,306.54 1481.08,306.99 1487.29,306.99 1493.51,306.99 1499.73,307.29"/>
<rect x="880.86" y="523.25" width="6.5" height="6.5" fill="#ff0000"/>
<rect x="887.08" y="523.25" width="6.5" height="6.5" fill="#ff0000"/>
<rect x="893.30" y="523.25" width="6.5" height="6.5" fill="#ff0000"/>
<rect x="899.51" y="523.25" width="6.5" height="6.5" fill="#ff0000"/>
<rect x="905.73" y="523.25" width="6.5" height="6.5" fill="#ff0000"/>
<rect x="911.95" y="523.25" width="6.5" height="6.5" fill="#ff0000"/>
<rect x="918.17" y="523.25" width="6.5" height="6.5" fill="#ff0000"/>
<rect x="924.39" y="523.25" width="6.5" height="6.5" fill="#ff0000"/>
<rect x="930.61" y="523.25" width="6.5" height="6.5" fill="#ff0000"/>
<rect x="936.82" y="523.25" width="6.5" height="6.5" fill="#ff0000"/>
<rect x="943.04" y="523.25" width="6.5" height="6.5" fill="#ff0000"/>
<rect x="949.26" y="523.25" width="6.5" height="6.5" fill="#ff0000"/>
<rect x="955.48" y="523.25" width="6.5" height="6.5" fill="#ff0000"/>
<rect x="961.70" y="523.25" width="6.5" height="6.5" fill="#ff0000"/>
<rect x="967.92" y="523.25" width="6.5" height="6.5" fill="#ff0000"/>
<rect x="974.14" y="523.25" width="6.5" height="6.5" fill="#ff0000"/>
<rect x="980.35" y="523.25" width="6.5" height="6.5" fill="#ff0000"/>
<rect x="986.57" y="523.25" width="6.5" height="6.5" fill="#ff0000"/>
<rect x="992.79" y="523.25" width="6.5" height="6.5" fill="#ff0000"/>
<rect x="999.01" y="523.25" width="6.5" height="6.5" fill="#ff0000"/>
<rect x="1005.23" y="523.25" width="6.5" height="6.5" fill="#ff0000"/>
<rect x="1011.45" y="523.25" width="6.5" height="6.5" fill="#ff0000"/>
<rect x="1017.66" y="523.25" width="6.5" height="6.5" fill="#ff0000"/>
<rect x="1023.88" y="523.25" width="6.5" height="6.5" fill="#ff0000"/>
<rect x="1030.10" y="523.25" width="6.5" height="6.5" fill="#ff0000"/>
<rect x="1036.32" y="522.25" width="6.5" height="6.5" fill="#ff0000"/>
<rect x="1042.54" y="515.75" width="6.5" height="6.5" fill="#ff0000"/>
<rect x="1048.76" y="491.23" width="6.5" height="6.5" fill="#ff0000"/>
<rect x="1054.97" y="438.95" width="6.5" height="6.5" fill="#ff0000"/>
<rect x="1061.19" y="354.90" width="6.5" height="6.5" fill="#ff0000"/>
<rect x="1067.41" y="250.59" width="6.5" height="6.5" fill="#ff0000"/>
<rect x="1073.63" y="150.53" width="6.5" height="6.5" fill="#ff0000"/>
<rect x="1079.85" y="79.48" width="6.5" height="6.5" fill="#ff0000"/>
<rect x="1086.07" y="41.86" width="6.5" height="6.5" fill="#ff0000"/>
<rect x="1092.28" y="30.45" width="6.5" height="6.5" fill="#ff0000"/>
<rect x="1098.50" y="38.86" width="6.5" height="6.5" fill="#ff0000"/>
<rect x="1104.72" y="57.97" width="6.5" height="6.5" fill="#ff0000"/>
<rect x="1110.94" y="78.06" width="6.5" height="6.5" fill="#ff0000"/>
<rect x="1117.16" y="94.14" width="6.5" height="6.5" fill="#ff0000"/>
<rect x="1123.38" y="107.25" width="6.5" height="6.5" fill="#ff0000"/>
<rect x="1129.60" y="115.26" width="6.5" height="6.5" fill="#ff0000"/>
<rect x="1135.81" y="121.51" width="6.5" height="6.5" fill="#ff0000"/>
<rect x="1142.03" y="128.01" width="6.5" height="6.5" fill="#ff0000"/>
<rect x="1148.25" y="136.52" width="6.5" height="6.5" fill="#ff0000"/>
<rect x="1154.47" y="152.93" width="6.5" height="6.5" fill="#ff0000"/>
<rect x="1160.69" y="171.04" width="6.5" height="6.5" fill="#ff0000"/>
<rect x="1166.91" y="189.12" width="6.5" height="6.5" fill="#ff0000"/>
<rect x="1173.12" y="206.18" width="6.5" height="6.5" fill="#ff0000"/>
<rect x="1179.34" y="225.57" width="6.5" height="6.5" fill="#ff0000"/>
<rect x="1185.56" y="236.58" width="6.5" height="6.5" fill="#ff0000"/>
<rect x="1191.78" y="248.91" width="6.5" height="6.5" fill="#ff0000"/>
<rect x="1198.00" y="260.97" width="6.5" height="6.5" fill="#ff0000"/>
<rect x="1204.22" y="271.02" width="6.5" height="6.5" fill="#ff0000"/>
<rect x="1210.43" y="279.10" width="6.5" height="6.5" fill="#ff0000"/>
<rect x="1216.65" y="287.11" width="6.5" height="6.5" fill="#ff0000"/>
<rect x="1222.87" y="293.11" width="6.5" height="6.5" fill="#ff0000"/>
<rect x="1229.09" y="297.14" width="6.5" height="6.5" fill="#ff0000"/>
<rect x="1235.31" y="299.62" width="6.5" height="6.5" fill="#ff0000"/>
<rect x="1241.53" y="300.17" width="6.5" height="6.5" fill="#ff0000"/>
<rect x="1247.74" y="299.77" width="6.5" height="6.5" fill="#ff0000"/>
<rect x="1253.96" y="297.14" width="6.5" height="6.5" fill="#ff0000"/>
<rect x="1260.18" y="294.11" width="6.5" height="6.5" fill="#ff0000"/>
<rect x="1266.40" y="291.51" width="6.5" height="6.5" fill="#ff0000"/>
<rect x="1272.62" y="287.11" width="6.5" height="6.5" fill="#ff0000"/>
<rect x="1278.84" y="282.11" width="6.5" height="6.5" fill="#ff0000"/>
<rect x="1285.06" y="276.65" width="6.5" height="6.5" fill="#ff0000"/>
<rect x="1291.27" y="272.02" width="6.5" height="6.5" fill="#ff0000"/>
<rect x="1297.49" y="268.00" width="6.5" height="6.5" fill="#ff0000"/>
<rect x="1303.71" y="263.99" width="6.5" height="6.5" fill="#ff0000"/>
<rect x="1309.93" y="260.77" width="6.5" height="6.5" fill="#ff0000"/>
<rect x="1316.15" y="256.94" width="6.5" height="6.5" fill="#ff0000"/>
<rect x="1322.37" y="253.59" width="6.5" height="6.5" fill="#ff0000"/>
<rect x="1328.58" y="251.34" width="6.5" height="6.5" fill="#ff0000"/>
<rect x="1334.80" y="250.51" width="6.5" height="6.5" fill="#ff0000"/>
<rect x="1341.02" y="250.91" width="6.5" height="6.5" fill="#ff0000"/>
<rect x="1347.24" y="251.91" width="6.5" height="6.5" fill="#ff0000"/>
<rect x="1353.46" y="252.94" width="6.5" height="6.5" fill="#ff0000"/>
<rect x="1359.68" y="254.34" width="6.5" height="6.5" fill="#ff0000"/>
<rect x="1365.89" y="256.54" width="6.5" height="6.5" fill="#ff0000"/>
<rect x="1372.11" y="259.37" width="6.5" height="6.5" fill="#ff0000"/>
<rect x="1378.33" y="262.59" width="6.5" height="6.5" fill="#ff0000"/>
<rect x="1384.55" y="266.00" width="6.5" height="6.5" fill="#ff0000"/>
<rect x="1390.77" y="269.72" width="6.5" height="6.5" fill="#ff0000"/>
<rect x="1396.99" y="272.65" width="6.5" height="6.5" fill="#ff0000"/>
<rect x="1403.20" y="276.10" width="6.5" height="6.5" fill="#ff0000"/>
<rect x="1409.42" y="279.53" width="6.5" height="6.5" fill="#ff0000"/>
<rect x="1415.64" y="283.01" width="6.5" height="6.5" fill="#ff0000"/>
<rect x="1421.86" y="286.18" width="6.5" height="6.5" fill="#ff0000"/>
<rect x="1428.08" y="289.41" width="6.5" height="6.5" fill="#ff0000"/>
<rect x="1434.30" y="292.21" width="6.5" height="6.5" fill="#ff0000"/>
<rect x="1440.52" y="294.41" width="6.5" height="6.5" fill="#ff0000"/>
<rect x="1446.73" y="296.99" width="6.5" height="6.5" fill="#ff0000"/>
<rect x="1452.95" y="298.99" width="6.5" height="6.5" fill="#ff0000"/>
<rect x="1459.17" y="300.62" width="6.5" height="6.5" fill="#ff0000"/>
<rect x="1465.39" y="302.12" width="6.5" height="6.5" fill="#ff0000"/>
<rect x="1471.61" y="303.29" width="6.5" height="6.5" fill="#ff0000"/>
<rect x="1477.83" y="303.74" width="6.5" height="6.5" fill="#ff0000"/>
<rect x="1484.04" y="303.74" width="6.5" height="6.5" fill="#ff0000"/>
<rect x="1490.26" y="303.74" width="6.5" height="6.5" fill="#ff0000"/>
<rect x="1496.48" y="304.04" width="6.5" height="6.5" fill="#ff0000"/>
<polyline fill="none" stroke="#008000" stroke-width="4.2" stroke-linejoin="round" points="884.11,526.50 890.33,526.50 896.55,526.50 902.76,526.50 908.98,526.50 915.20,526.50 921.42,526.50 927.64,526.50 933.86,526.50 940.07,526.50 946.29,526.50 952.51,526.50 958.73,526.50 964.95,526.50 971.17,526.50 977.39,526.50 983.60,526.50 989.82,526.50 996.04,526.50 1002.26,526.50 1008.48,526.50 1014.70,526.50 1020.91,526.50 1027.13,526.50 1033.35,526.50 1039.57,525.75 1045.79,520.25 1052.01,498.48 1058.22,452.21 1064.44,373.16 1070.66,276.35 1076.88,191.30 1083.10,121.76 1089.32,84.74 1095.53,75.28 1101.75,84.74 1107.97,101.40 1114.19,117.50 1120.41,132.76 1126.63,136.27 1132.85,146.12 1139.06,149.15 1145.28,152.55 1151.50,159.20 1157.72,169.29 1163.94,182.72 1170.16,194.38 1176.37,209.43 1182.59,225.82 1188.81,235.33 1195.03,248.13 1201.25,260.19 1207.47,271.25 1213.68,280.30 1219.90,286.73 1226.12,291.96 1232.34,297.36 1238.56,299.39 1244.78,299.99 1250.99,299.79 1257.21,297.36 1263.43,297.99 1269.65,299.99 1275.87,295.99 1282.09,293.36 1288.31,290.36 1294.52,287.33 1300.74,284.33 1306.96,281.35 1313.18,277.85 1319.40,275.75 1325.62,272.77 1331.83,270.25 1338.05,269.25 1344.27,268.25 1350.49,268.85 1356.71,271.25 1362.93,270.25 1369.14,273.27 1375.36,275.87 1381.58,278.30 1387.80,281.35 1394.02,284.10 1400.24,286.28 1406.45,288.81 1412.67,291.36 1418.89,293.86 1425.11,296.56 1431.33,299.36 1437.55,301.69 1443.77,303.37 1449.98,304.94 1456.20,306.49 1462.42,307.97 1468.64,308.99 1474.86,310.30 1481.08,311.05 1487.29,311.50 1493.51,311.80 1499.73,312.12"/>
<circle cx="884.11" cy="526.50" r="3.55" fill="#008000"/>
<circle cx="890.33" cy="526.50" r="3.55" fill="#008000"/>
<circle cx="896.55" cy="526.50" r="3.55" fill="#008000"/>
<circle cx="902.76" cy="526.50" r="3.55" fill="#008000"/>
<circle cx="908.98" cy="526.50" r="3.55" fill="#008000"/>
<circle cx="915.20" cy="526.50" r="3.55" fill="#008000"/>
<circle cx="921.42" cy="526.50" r="3.55" fill="#008000"/>
<circle cx="927.64" cy="526.50" r="3.55" fill="#008000"/>
<circle cx="933.86" cy="526.50" r="3.55" fill="#008000"/>
<circle cx="940.07" cy="526.50" r="3.55" fill="#008000"/>
<circle cx="946.29" cy="526.50" r="3.55" fill="#008000"/>
<circle cx="952.51" cy="526.50" r="3.55" fill="#008000"/>
<circle cx="958.73" cy="526.50" r="3.55" fill="#008000"/>
<circle cx="964.95" cy="526.50" r="3.55" fill="#008000"/>
<circle cx="971.17" cy="526.50" r="3.55" fill="#008000"/>
<circle cx="977.39" cy="526.50" r="3.55" fill="#008000"/>
<circle cx="983.60" cy="526.50" r="3.55" fill="#008000"/>
<circle cx="989.82" cy="526.50" r="3.55" fill="#008000"/>
<circle cx="996.04" cy="526.50" r="3.55" fill="#008000"/>
<circle cx="1002.26" cy="526.50" r="3.55" fill="#008000"/>
<circle cx="1008.48" cy="526.50" r="3.55" fill="#008000"/>
<circle cx="1014.70" cy="526.50" r="3.55" fill="#008000"/>
<circle cx="1020.91" cy="526.50" r="3.55" fill="#008000"/>
<circle cx="1027.13" cy="526.50" r="3.55" fill="#008000"/>
<circle cx="1033.35" cy="526.50" r="3.55" fill="#008000"/>
<circle cx="1039.57" cy="525.75" r="3.55" fill="#008000"/>
<circle cx="1045.79" cy="520.25" r="3.55" fill="#008000"/>
<circle cx="1052.01" cy="498.48" r="3.55" fill="#008000"/>
<circle cx="1058.22" cy="452.21" r="3.55" fill="#008000"/>
<circle cx="1064.44" cy="373.16" r="3.55" fill="#008000"/>
<circle cx="1070.66" cy="276.35" r="3.55" fill="#008000"/>
<circle cx="1076.88" cy="191.30" r="3.55" fill="#008000"/>
<circle cx="1083.10" cy="121.76" r="3.55" fill="#008000"/>
<circle cx="1089.32" cy="84.74" r="3.55" fill="#008000"/>
<circle cx="1095.53" cy="75.28" r="3.55" fill="#008000"/>
<circle cx="1101.75" cy="84.74" r="3.55" fill="#008000"/>
<circle cx="1107.97" cy="101.40" r="3.55" fill="#008000"/>
<circle cx="1114.19" cy="117.50" r="3.55" fill="#008000"/>
<circle cx="1120.41" cy="132.76" r="3.55" fill="#008000"/>
<circle cx="1126.63" cy="136.27" r="3.55" fill="#008000"/>
<circle cx="1132.85" cy="146.12" r="3.55" fill="#008000"/>
<circle cx="1139.06" cy="149.15" r="3.55" fill="#008000"/>
<circle cx="1145.28" cy="152.55" r="3.55" fill="#008000"/>
<circle cx="1151.50" cy="159.20" r="3.55" fill="#008000"/>
<circle cx="1157.72" cy="169.29" r="3.55" fill="#008000"/>
<circle cx="1163.94" cy="182.72" r="3.55" fill="#008000"/>
<circle cx="1170.16" cy="194.38" r="3.55" fill="#008000"/>
<circle cx="1176.37" cy="209.43" r="3.55" fill="#008000"/>
<circle cx="1182.59" cy="225.82" r="3.55" fill="#008000"/>
<circle cx="1188.81" cy="235.33" r="3.55" fill="#008000"/>
<circle cx="1195.03" cy="248.13" r="3.55" fill="#008000"/>
<circle cx="1201.25" cy="260.19" r="3.55" fill="#008000"/>
<circle cx="1207.47" cy="271.25" r="3.55" fill="#008000"/>
<circle cx="1213.68" cy="280.30" r="3.55" fill="#008000"/>
<circle cx="1219.90" cy="286.73" r="3.55" fill="#008000"/>
<circle cx="1226.12" cy="291.96" r="3.55" fill="#008000"/>
<circle cx="1232.34" cy="297.36" r="3.55" fill="#008000"/>
<circle cx="1238.56" cy="299.39" r="3.55" fill="#008000"/>
<circle cx="1244.78" cy="299.99" r="3.55" fill="#008000"/>
<circle cx="1250.99" cy="299.79" r="3.55" fill="#008000"/>
<circle cx="1257.21" cy="297.36" r="3.55" fill="#008000"/>
<circle cx="1263.43" cy="297.99" r="3.55" fill="#008000"/>
<circle cx="1269.65" cy="299.99" r="3.55" fill="#008000"/>
<circle cx="1275.87" cy="295.99" r="3.55" fill="#008000"/>
<circle cx="1282.09" cy="293.36" r="3.55" fill="#008000"/>
<circle cx="1288.31" cy="290.36" r="3.55" fill="#008000"/>
<circle cx="1294.52" cy="287.33" r="3.55" fill="#008000"/>
<circle cx="1300.74" cy="284.33" r="3.55" fill="#008000"/>
<circle cx="1306.96" cy="281.35" r="3.55" fill="#008000"/>
<circle cx="1313.18" cy="277.85" r="3.55" fill="#008000"/>
<circle cx="1319.40" cy="275.75" r="3.55" fill="#008000"/>
<circle cx="1325.62" cy="272.77" r="3.55" fill="#008000"/>
<circle cx="1331.83" cy="270.25" r="3.55" fill="#008000"/>
<circle cx="1338.05" cy="269.25" r="3.55" fill="#008000"/>
<circle cx="1344.27" cy="268.25" r="3.55" fill="#008000"/>
<circle cx="1350.49" cy="268.85" r="3.55" fill="#008000"/>
<circle cx="1356.71" cy="271.25" r="3.55" fill="#008000"/>
<circle cx="1362.93" cy="270.25" r="3.55" fill="#008000"/>
<circle cx="1369.14" cy="273.27" r="3.55" fill="#008000"/>
<circle cx="1375.36" cy="275.87" r="3.55" fill="#008000"/>
<circle cx="1381.58" cy="278.30" r="3.55" fill="#008000"/>
<circle cx="1387.80" cy="281.35" r="3.55" fill="#008000"/>
<circle cx="1394.02" cy="284.10" r="3.55" fill="#008000"/>
<circle cx="1400.24" cy="286.28" r="3.55" fill="#008000"/>
<circle cx="1406.45" cy="288.81" r="3.55" fill="#008000"/>
<circle cx="1412.67" cy="291.36" r="3.55" fill="#008000"/>
<circle cx="1418.89" cy="293.86" r="3.55" fill="#008000"/>
<circle cx="1425.11" cy="296.56" r="3.55" fill="#008000"/>
<circle cx="1431.33" cy="299.36" r="3.55" fill="#008000"/>
<circle cx="1437.55" cy="301.69" r="3.55" fill="#008000"/>
<circle cx="1443.77" cy="303.37" r="3.55" fill="#008000"/>
<circle cx="1449.98" cy="304.94" r="3.55" fill="#008000"/>
<circle cx="1456.20" cy="306.49" r="3.55" fill="#008000"/>
<circle cx="1462.42" cy="307.97" r="3.55" fill="#008000"/>
<circle cx="1468.64" cy="308.99" r="3.55" fill="#008000"/>
<circle cx="1474.86" cy="310.30" r="3.55" fill="#008000"/>
<circle cx="1481.08" cy="311.05" r="3.55" fill="#008000"/>
<circle cx="1487.29" cy="311.50" r="3.55" fill="#008000"/>
<circle cx="1493.51" cy="311.80" r="3.55" fill="#008000"/>
<circle cx="1499.73" cy="312.12" r="3.55" fill="#008000"/>
<polyline fill="none" stroke="#0000ff" stroke-width="4.2" stroke-linejoin="round" points="884.11,526.50 890.33,526.50 896.55,526.50 902.76,526.50 908.98,526.50 915.20,526.50 921.42,526.50 927.64,526.50 933.86,526.50 940.07,526.50 946.29,526.50 952.51,526.50 958.73,526.50 964.95,526.50 971.17,526.50 977.39,526.50 983.60,526.50 989.82,526.50 996.04,526.50 1002.26,526.50 1008.48,526.50 1014.70,526.50 1020.91,526.50 1027.13,526.50 1033.35,526.50 1039.57,526.00 1045.79,521.50 1052.01,502.41 1058.22,461.21 1064.44,395.37 1070.66,315.47 1076.88,235.33 1083.10,174.29 1089.32,138.09 1095.53,131.06 1101.75,136.09 1107.97,149.15 1114.19,162.21 1120.41,172.29 1126.63,178.29 1132.85,183.29 1139.06,187.32 1145.28,193.35 1151.50,202.41 1157.72,212.81 1163.94,224.92 1170.16,237.83 1176.37,251.59 1182.59,263.22 1188.81,274.10 1195.03,282.35 1201.25,289.93 1207.47,297.36 1213.68,304.42 1219.90,309.44 1226.12,314.47 1232.34,318.88 1238.56,322.13 1244.78,324.13 1250.99,324.93 1257.21,324.13 1263.43,323.50 1269.65,322.88 1275.87,320.50 1282.09,315.47 1288.31,310.45 1294.52,305.42 1300.74,300.39 1306.96,295.36 1313.18,290.36 1319.40,287.33 1325.62,285.33 1331.83,283.70 1338.05,282.70 1344.27,282.30 1350.49,282.70 1356.71,283.70 1362.93,284.73 1369.14,286.36 1375.36,287.93 1381.58,289.73 1387.80,291.36 1394.02,292.86 1400.24,294.69 1406.45,296.86 1412.67,298.94 1418.89,301.11 1425.11,303.24 1431.33,305.37 1437.55,307.37 1443.77,308.99 1449.98,310.62 1456.20,312.07 1462.42,313.37 1468.64,314.20 1474.86,315.12 1481.08,315.57 1487.29,315.72 1493.51,315.57 1499.73,315.27"/>
<path d="M884.11 521.50L888.41 529.10L879.81 529.10Z" fill="#0000ff"/>
<path d="M890.33 521.50L894.63 529.10L886.03 529.10Z" fill="#0000ff"/>
<path d="M896.55 521.50L900.85 529.10L892.25 529.10Z" fill="#0000ff"/>
<path d="M902.76 521.50L907.06 529.10L898.46 529.10Z" fill="#0000ff"/>
<path d="M908.98 521.50L913.28 529.10L904.68 529.10Z" fill="#0000ff"/>
<path d="M915.20 521.50L919.50 529.10L910.90 529.10Z" fill="#0000ff"/>
<path d="M921.42 521.50L925.72 529.10L917.12 529.10Z" fill="#0000ff"/>
<path d="M927.64 521.50L931.94 529.10L923.34 529.10Z" fill="#0000ff"/>
<path d="M933.86 521.50L938.16 529.10L929.56 529.10Z" fill="#0000ff"/>
<path d="M940.07 521.50L944.37 529.10L935.77 529.10Z" fill="#0000ff"/>
<path d="M946.29 521.50L950.59 529.10L941.99 529.10Z" fill="#0000ff"/>
<path d="M952.51 521.50L956.81 529.10L948.21 529.10Z" fill="#0000ff"/>
<path d="M958.73 521.50L963.03 529.10L954.43 529.10Z" fill="#0000ff"/>
<path d="M964.95 521.50L969.25 529.10L960.65 529.10Z" fill="#0000ff"/>
<path d="M971.17 521.50L975.47 529.10L966.87 529.10Z" fill="#0000ff"/>
<path d="M977.39 521.50L981.69 529.10L973.09 529.10Z" fill="#0000ff"/>
<path d="M983.60 521.50L987.90 529.10L979.30 529.10Z" fill="#0000ff"/>
<path d="M989.82 521.50L994.12 529.10L985.52 529.10Z" fill="#0000ff"/>
<path d="M996.04 521.50L1000.34 529.10L991.74 529.10Z" fill="#0000ff"/>
<path d="M1002.26 521.50L1006.56 529.10L997.96 529.10Z" fill="#0000ff"/>
<path d="M1008.48 521.50L1012.78 529.10L1004.18 529.10Z" fill="#0000ff"/>
<path d="M1014.70 521.50L1019.00 529.10L1010.40 529.10Z" fill="#0000ff"/>
<path d="M1020.91 521.50L1025.21 529.10L1016.61 529.10Z" fill="#0000ff"/>
<path d="M1027.13 521.50L1031.43 529.10L1022.83 529.10Z" fill="#0000ff"/>
<path d="M1033.35 521.50L1037.65 529.10L1029.05 529.10Z" fill="#0000ff"/>
<path d="M1039.57 521.00L1043.87 528.60L1035.27 528.60Z" fill="#0000ff"/>
<path d="M1045.79 516.50L1050.09 524.10L1041.49 524.10Z" fill="#0000ff"/>
<path d="M1052.01 497.41L1056.31 505.01L1047.71 505.01Z" fill="#0000ff"/>
<path d="M1058.22 456.21L1062.52 463.81L1053.92 463.81Z" fill="#0000ff"/>
<path d="M1064.44 390.37L1068.74 397.97L1060.14 397.97Z" fill="#0000ff"/>
<path d="M1070.66 310.47L1074.96 318.07L1066.36 318.07Z" fill="#0000ff"/>
<path d="M1076.88 230.33L1081.18 237.93L1072.58 237.93Z" fill="#0000ff"/>
<path d="M1083.10 169.29L1087.40 176.89L1078.80 176.89Z" fill="#0000ff"/>
<path d="M1089.32 133.09L1093.62 140.69L1085.02 140.69Z" fill="#0000ff"/>
<path d="M1095.53 126.06L1099.83 133.66L1091.23 133.66Z" fill="#0000ff"/>
<path d="M1101.75 131.09L1106.05 138.69L1097.45 138.69Z" fill="#0000ff"/>
<path d="M1107.97 144.15L1112.27 151.75L1103.67 151.75Z" fill="#0000ff"/>
<path d="M1114.19 157.21L1118.49 164.81L1109.89 164.81Z" fill="#0000ff"/>
<path d="M1120.41 167.29L1124.71 174.89L1116.11 174.89Z" fill="#0000ff"/>
<path d="M1126.63 173.29L1130.93 180.89L1122.33 180.89Z" fill="#0000ff"/>
<path d="M1132.85 178.29L1137.15 185.89L1128.55 185.89Z" fill="#0000ff"/>
<path d="M1139.06 182.32L1143.36 189.92L1134.76 189.92Z" fill="#0000ff"/>
<path d="M1145.28 188.35L1149.58 195.95L1140.98 195.95Z" fill="#0000ff"/>
<path d="M1151.50 197.41L1155.80 205.01L1147.20 205.01Z" fill="#0000ff"/>
<path d="M1157.72 207.81L1162.02 215.41L1153.42 215.41Z" fill="#0000ff"/>
<path d="M1163.94 219.92L1168.24 227.52L1159.64 227.52Z" fill="#0000ff"/>
<path d="M1170.16 232.83L1174.46 240.43L1165.86 240.43Z" fill="#0000ff"/>
<path d="M1176.37 246.59L1180.67 254.19L1172.07 254.19Z" fill="#0000ff"/>
<path d="M1182.59 258.22L1186.89 265.82L1178.29 265.82Z" fill="#0000ff"/>
<path d="M1188.81 269.10L1193.11 276.70L1184.51 276.70Z" fill="#0000ff"/>
<path d="M1195.03 277.35L1199.33 284.95L1190.73 284.95Z" fill="#0000ff"/>
<path d="M1201.25 284.93L1205.55 292.53L1196.95 292.53Z" fill="#0000ff"/>
<path d="M1207.47 292.36L1211.77 299.96L1203.17 299.96Z" fill="#0000ff"/>
<path d="M1213.68 299.42L1217.98 307.02L1209.38 307.02Z" fill="#0000ff"/>
<path d="M1219.90 304.44L1224.20 312.04L1215.60 312.04Z" fill="#0000ff"/>
<path d="M1226.12 309.47L1230.42 317.07L1221.82 317.07Z" fill="#0000ff"/>
<path d="M1232.34 313.88L1236.64 321.48L1228.04 321.48Z" fill="#0000ff"/>
<path d="M1238.56 317.13L1242.86 324.73L1234.26 324.73Z" fill="#0000ff"/>
<path d="M1244.78 319.13L1249.08 326.73L1240.48 326.73Z" fill="#0000ff"/>
<path d="M1250.99 319.93L1255.29 327.53L1246.69 327.53Z" fill="#0000ff"/>
<path d="M1257.21 319.13L1261.51 326.73L1252.91 326.73Z" fill="#0000ff"/>
<path d="M1263.43 318.50L1267.73 326.10L1259.13 326.10Z" fill="#0000ff"/>
<path d="M1269.65 317.88L1273.95 325.48L1265.35 325.48Z" fill="#0000ff"/>
<path d="M1275.87 315.50L1280.17 323.10L1271.57 323.10Z" fill="#0000ff"/>
<path d="M1282.09 310.47L1286.39 318.07L1277.79 318.07Z" fill="#0000ff"/>
<path d="M1288.31 305.45L1292.61 313.05L1284.01 313.05Z" fill="#0000ff"/>
<path d="M1294.52 300.42L1298.82 308.02L1290.22 308.02Z" fill="#0000ff"/>
<path d="M1300.74 295.39L1305.04 302.99L1296.44 302.99Z" fill="#0000ff"/>
<path d="M1306.96 290.36L1311.26 297.96L1302.66 297.96Z" fill="#0000ff"/>
<path d="M1313.18 285.36L1317.48 292.96L1308.88 292.96Z" fill="#0000ff"/>
<path d="M1319.40 282.33L1323.70 289.93L1315.10 289.93Z" fill="#0000ff"/>
<path d="M1325.62 280.33L1329.92 287.93L1321.32 287.93Z" fill="#0000ff"/>
<path d="M1331.83 278.70L1336.13 286.30L1327.53 286.30Z" fill="#0000ff"/>
<path d="M1338.05 277.70L1342.35 285.30L1333.75 285.30Z" fill="#0000ff"/>
<path d="M1344.27 277.30L1348.57 284.90L1339.97 284.90Z" fill="#0000ff"/>
<path d="M1350.49 277.70L1354.79 285.30L1346.19 285.30Z" fill="#0000ff"/>
<path d="M1356.71 278.70L1361.01 286.30L1352.41 286.30Z" fill="#0000ff"/>
<path d="M1362.93 279.73L1367.23 287.33L1358.63 287.33Z" fill="#0000ff"/>
<path d="M1369.14 281.36L1373.44 288.96L1364.84 288.96Z" fill="#0000ff"/>
<path d="M1375.36 282.93L1379.66 290.53L1371.06 290.53Z" fill="#0000ff"/>
<path d="M1381.58 284.73L1385.88 292.33L1377.28 292.33Z" fill="#0000ff"/>
<path d="M1387.80 286.36L1392.10 293.96L1383.50 293.96Z" fill="#0000ff"/>
<path d="M1394.02 287.86L1398.32 295.46L1389.72 295.46Z" fill="#0000ff"/>
<path d="M1400.24 289.69L1404.54 297.29L1395.94 297.29Z" fill="#0000ff"/>
<path d="M1406.45 291.86L1410.75 299.46L1402.15 299.46Z" fill="#0000ff"/>
<path d="M1412.67 293.94L1416.97 301.54L1408.37 301.54Z" fill="#0000ff"/>
<path d="M1418.89 296.11L1423.19 303.71L1414.59 303.71Z" fill="#0000ff"/>
<path d="M1425.11 298.24L1429.41 305.84L1420.81 305.84Z" fill="#0000ff"/>
<path d="M1431.33 300.37L1435.63 307.97L1427.03 307.97Z" fill="#0000ff"/>
<path d="M1437.55 302.37L1441.85 309.97L1433.25 309.97Z" fill="#0000ff"/>
<path d="M1443.77 303.99L1448.07 311.59L1439.47 311.59Z" fill="#0000ff"/>
<path d="M1449.98 305.62L1454.28 313.22L1445.68 313.22Z" fill="#0000ff"/>
<path d="M1456.20 307.07L1460.50 314.67L1451.90 314.67Z" fill="#0000ff"/>
<path d="M1462.42 308.37L1466.72 315.97L1458.12 315.97Z" fill="#0000ff"/>
<path d="M1468.64 309.20L1472.94 316.80L1464.34 316.80Z" fill="#0000ff"/>
<path d="M1474.86 310.12L1479.16 317.72L1470.56 317.72Z" fill="#0000ff"/>
<path d="M1481.08 310.57L1485.38 318.17L1476.78 318.17Z" fill="#0000ff"/>
<path d="M1487.29 310.72L1491.59 318.32L1482.99 318.32Z" fill="#0000ff"/>
<path d="M1493.51 310.57L1497.81 318.17L1489.21 318.17Z" fill="#0000ff"/>
<path d="M1499.73 310.27L1504.03 317.87L1495.43 317.87Z" fill="#0000ff"/>
</g>
<text x="881.00" y="553.80" text-anchor="middle" class="tk">0</text>
<text x="984.64" y="553.80" text-anchor="middle" class="tk">2</text>
<text x="1088.28" y="553.80" text-anchor="middle" class="tk">4</text>
<text x="1191.92" y="553.80" text-anchor="middle" class="tk">6</text>
<text x="1295.56" y="553.80" text-anchor="middle" class="tk">8</text>
<text x="1399.20" y="553.80" text-anchor="middle" class="tk">10</text>
<text x="1502.84" y="553.80" text-anchor="middle" class="tk">12</text>
<text x="870.80" y="532.80" text-anchor="end" class="tk">0.0</text>
<text x="870.80" y="407.73" text-anchor="end" class="tk">0.5</text>
<text x="870.80" y="282.65" text-anchor="end" class="tk">1.0</text>
<text x="870.80" y="157.57" text-anchor="end" class="tk">1.5</text>
<text x="870.80" y="32.50" text-anchor="end" class="tk">2.0</text>
<text x="1191.70" y="592.4" text-anchor="middle" class="tt"><tspan font-style="italic">r</tspan>,Å</text>
<text transform="translate(815.0,265.0) rotate(-90)" text-anchor="middle" class="tt"><tspan font-style="italic">g</tspan>(r)</text>
<path d="M1362.3 61.9H1401.1" stroke="#ff0000" stroke-width="4.4"/>
<rect x="1378.45" y="58.65" width="6.5" height="6.5" fill="#ff0000"/>
<text x="1411.0" y="69.10" class="lg">363K</text>
<path d="M1362.3 88.65H1401.1" stroke="#008000" stroke-width="4.4"/>
<circle cx="1381.70" cy="88.65" r="3.55" fill="#008000"/>
<text x="1411.0" y="95.85" class="lg">373K</text>
<path d="M1362.3 115.4H1401.1" stroke="#0000ff" stroke-width="4.4"/>
<path d="M1381.70 110.40L1386.00 118.00L1377.40 118.00Z" fill="#0000ff"/>
<text x="1411.0" y="122.60" class="lg">383K</text>
<text transform="translate(780.5,30) scale(0.933,1)" class="pl">B</text>
</svg>
</body></html>
